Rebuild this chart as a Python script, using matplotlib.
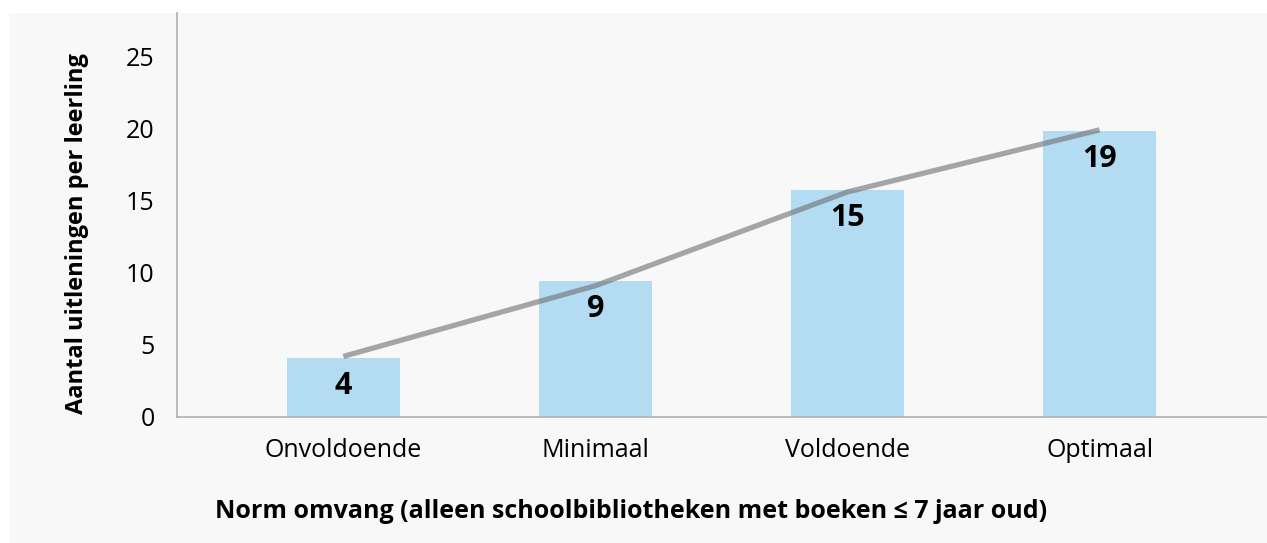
import matplotlib.pyplot as plt
import matplotlib.patches as mpatches
import numpy as np

# Gegevens
categorieen = ['Onvoldoende', 'Minimaal', 'Voldoende', 'Optimaal']
waarden = [4.1, 9.4, 15.7, 19.8]
lijn_waarden = [4.2, 9.1, 15.6, 19.9]
labels = ['4', '9', '15', '19']
y_ticks = [0, 5, 10, 15, 20, 25]

plt.rcParams['font.family'] = ['Open Sans', 'DejaVu Sans']

W, H = 1267, 543
fig = plt.figure(figsize=(W / 100, H / 100), dpi=100)
fig.patch.set_facecolor('white')

# lichtgrijs paneel achter de grafiek
fig.patches.append(mpatches.Rectangle((9 / W, 0), 1 - 9 / W, 1 - 13 / H,
                                      transform=fig.transFigure,
                                      facecolor='#f8f8f8', edgecolor='none', zorder=-10))

ax = fig.add_axes([177 / W, 1 - 417 / H, (1266 - 177) / W, (417 - 13) / H])
ax.set_facecolor('#f8f8f8')

x = np.arange(len(categorieen))
ax.bar(x, waarden, width=0.45, color='#b3dcf3', zorder=2)
ax.plot(x, lijn_waarden, color='#6e6e72', alpha=0.6, linewidth=3.8,
        solid_capstyle='butt', zorder=3)

for xi, v, lab in zip(x, waarden, labels):
    ax.annotate(lab, (xi, v), xytext=(0, -20), textcoords='offset points',
                ha='center', va='center', fontsize=22, fontweight='bold',
                color='black', zorder=4)

ax.set_xlim(-0.66, 3.66)
ax.set_ylim(0, 28)
ax.set_xticks(x)
ax.set_xticklabels(categorieen)
ax.set_yticks(y_ticks)
ax.tick_params(axis='both', length=0, labelsize=18, colors='black')
ax.tick_params(axis='y', pad=16)
ax.tick_params(axis='x', pad=15)

for kant in ['top', 'right']:
    ax.spines[kant].set_visible(False)
for kant in ['left', 'bottom']:
    ax.spines[kant].set_color('#b0b0b0')
    ax.spines[kant].set_linewidth(1.2)

fig.text(77 / W, 1 - 234 / H, 'Aantal uitleningen per leerling', rotation=90,
         ha='center', va='center', fontsize=17, fontweight='bold')
fig.text(631 / W, 1 - 512 / H,
         'Norm omvang (alleen schoolbibliotheken met boeken \u2264 7 jaar oud)',
         ha='center', va='center', fontsize=18, fontweight='bold')

fig.savefig('out.png', dpi=100, facecolor=fig.get_facecolor())
